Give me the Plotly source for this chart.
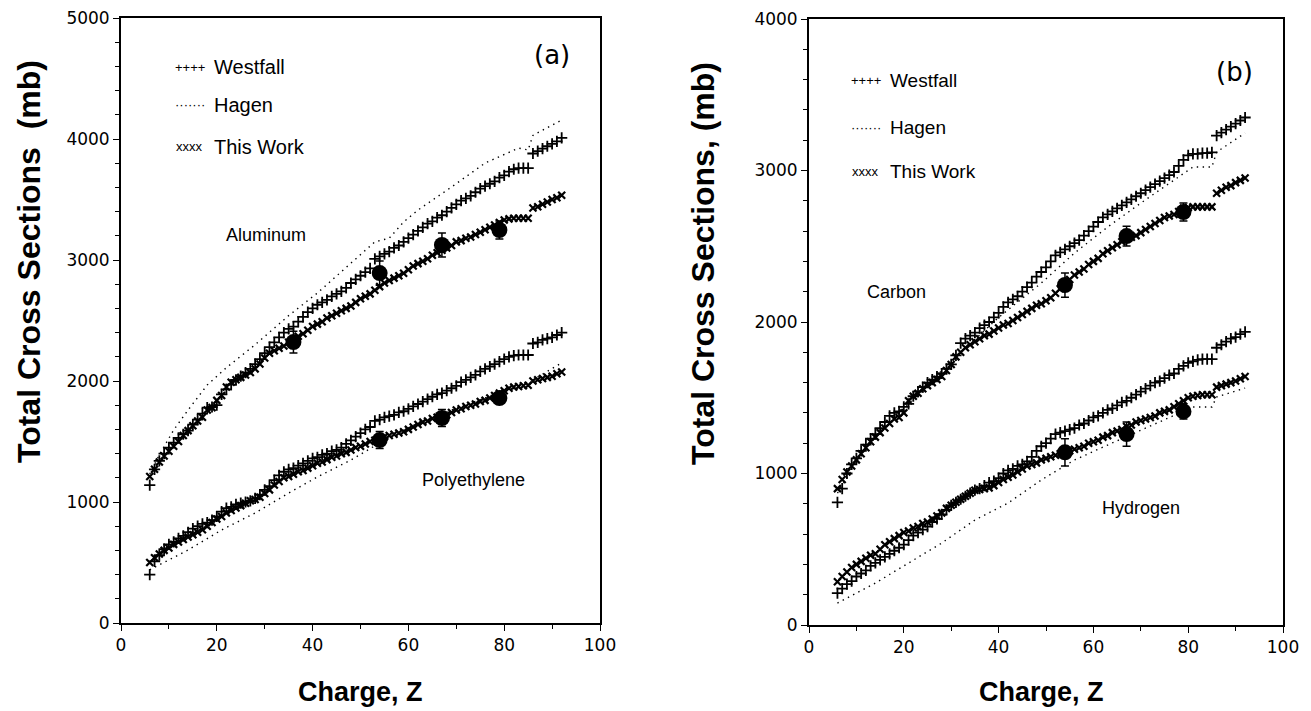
import plotly.graph_objects as go

# --- Data: total cross sections (mb) vs projectile charge Z ---
Z = list(range(6, 93))

# Panel (a) - Aluminum target
AL_WESTFALL = [1140, 1270, 1340, 1400, 1450, 1490, 1530, 1560, 1590, 1640,
               1680, 1730, 1780, 1785, 1800, 1890, 1930, 1970, 2010, 2040,
               2070, 2100, 2140, 2180, 2230, 2280, 2320, 2360, 2400, 2430,
               2450, 2490, 2530, 2570, 2600, 2630, 2650, 2670, 2700, 2720,
               2740, 2770, 2810, 2840, 2870, 2900, 2930, 3010, 3030, 3050,
               3070, 3100, 3120, 3150, 3180, 3210, 3240, 3270, 3300, 3320,
               3350, 3370, 3400, 3430, 3460, 3490, 3510, 3530, 3560, 3590,
               3610, 3630, 3650, 3680, 3700, 3730, 3750, 3760, 3760, 3760,
               3880, 3900, 3920, 3940, 3960, 3980, 4010]
AL_THIS_WORK = [1210, 1270, 1330, 1380, 1420, 1460, 1500, 1550, 1590, 1630,
                1670, 1700, 1760, 1780, 1840, 1880, 1950, 1990, 2010, 2030,
                2050, 2070, 2100, 2140, 2190, 2230, 2250, 2270, 2290, 2320,
                2340, 2370, 2390, 2420, 2450, 2470, 2490, 2520, 2540, 2560,
                2580, 2600, 2620, 2650, 2680, 2700, 2720, 2750, 2780, 2810,
                2830, 2850, 2870, 2890, 2920, 2950, 2970, 2990, 3010, 3040,
                3060, 3080, 3100, 3120, 3150, 3160, 3180, 3190, 3210, 3230,
                3250, 3270, 3290, 3310, 3330, 3340, 3345, 3345, 3345, 3345,
                3430, 3440, 3460, 3480, 3500, 3515, 3535]
AL_HAGEN_Z = [6, 8, 11, 14, 18, 22, 28, 35, 41, 48, 53, 56, 59, 62, 69, 76, 83, 85, 86, 92]
AL_HAGEN = [1230, 1390, 1595, 1760, 1967, 2110, 2300, 2540, 2727, 2975,
            3150, 3180, 3314, 3413, 3603, 3801, 3925, 3910, 4030, 4157]
AL_MEAS_Z = [36, 54, 67, 79]
AL_MEAS = [2322, 2892, 3124, 3248]
AL_MEAS_ERR = [90, 100, 100, 75]

# Panel (a) - Polyethylene target
PE_WESTFALL = [400, 510, 560, 610, 650, 670, 700, 720, 750, 780,
               800, 820, 830, 850, 880, 920, 950, 960, 980, 990,
               1000, 1010, 1030, 1060, 1100, 1130, 1180, 1220, 1250, 1270,
               1280, 1300, 1320, 1340, 1360, 1370, 1390, 1400, 1420, 1430,
               1450, 1480, 1510, 1540, 1570, 1600, 1620, 1670, 1680, 1700,
               1710, 1720, 1740, 1750, 1770, 1790, 1810, 1830, 1850, 1870,
               1890, 1900, 1920, 1940, 1960, 1990, 2010, 2030, 2050, 2080,
               2100, 2120, 2140, 2160, 2180, 2200, 2210, 2215, 2215, 2215,
               2310, 2320, 2340, 2350, 2360, 2380, 2400]
PE_THIS_WORK = [500, 540, 570, 600, 620, 650, 670, 690, 710, 730,
                750, 770, 800, 830, 860, 880, 910, 930, 950, 970,
                990, 1010, 1020, 1040, 1070, 1100, 1140, 1170, 1200, 1210,
                1230, 1250, 1260, 1280, 1300, 1320, 1330, 1350, 1370, 1380,
                1400, 1410, 1430, 1450, 1460, 1480, 1500, 1510, 1530, 1540,
                1550, 1560, 1570, 1580, 1600, 1620, 1640, 1660, 1670, 1690,
                1700, 1710, 1720, 1740, 1760, 1770, 1790, 1800, 1810, 1830,
                1840, 1860, 1880, 1900, 1920, 1940, 1950, 1955, 1960, 1965,
                2000, 2010, 2020, 2030, 2040, 2060, 2075]
PE_HAGEN_Z = [6, 14, 21, 28, 35, 41, 48, 55, 62, 69, 76, 80, 85, 86, 92]
PE_HAGEN = [440, 603, 769, 909, 1074, 1207, 1347, 1512, 1653, 1760,
            1859, 1930, 1950, 2010, 2150]
PE_MEAS_Z = [54, 67, 79]
PE_MEAS = [1512, 1694, 1859]
PE_MEAS_ERR = [70, 70, 45]

# Panel (b) - Carbon target
C_WESTFALL = [810, 900, 1000, 1060, 1100, 1150, 1190, 1230, 1260, 1300,
              1340, 1380, 1400, 1410, 1440, 1460, 1510, 1540, 1570, 1600,
              1620, 1640, 1660, 1690, 1720, 1780, 1860, 1890, 1910, 1930,
              1960, 1980, 2000, 2030, 2060, 2100, 2130, 2150, 2170, 2200,
              2230, 2260, 2300, 2330, 2360, 2400, 2440, 2460, 2480, 2500,
              2520, 2540, 2570, 2600, 2630, 2660, 2690, 2710, 2730, 2750,
              2770, 2790, 2810, 2830, 2850, 2870, 2890, 2910, 2930, 2950,
              2970, 2990, 3030, 3070, 3100, 3110, 3110, 3115, 3115, 3120,
              3230, 3250, 3270, 3290, 3310, 3330, 3350]
C_THIS_WORK = [900, 960, 1010, 1050, 1090, 1130, 1170, 1210, 1240, 1270,
               1300, 1330, 1360, 1370, 1400, 1480, 1510, 1530, 1560, 1580,
               1600, 1620, 1640, 1680, 1720, 1770, 1800, 1830, 1850, 1870,
               1890, 1910, 1920, 1940, 1960, 1980, 1990, 2010, 2030, 2050,
               2070, 2090, 2110, 2120, 2140, 2160, 2190, 2220, 2250, 2280,
               2310, 2330, 2350, 2380, 2400, 2420, 2450, 2470, 2490, 2510,
               2530, 2550, 2560, 2570, 2590, 2610, 2630, 2650, 2670, 2690,
               2700, 2710, 2730, 2750, 2755, 2760, 2760, 2760, 2760, 2760,
               2850, 2870, 2890, 2900, 2920, 2935, 2950]
C_HAGEN_Z = [6, 12, 20, 30, 40, 49, 56, 63, 70, 77, 81, 85, 86, 92]
C_HAGEN = [870, 1180, 1430, 1740, 2030, 2257, 2455, 2627, 2785, 2940,
           3023, 3023, 3122, 3247]
C_MEAS_Z = [54, 67, 79]
C_MEAS = [2244, 2567, 2726]
C_MEAS_ERR = [80, 65, 60]

# Panel (b) - Hydrogen target
H_WESTFALL = [210, 240, 270, 290, 320, 340, 360, 390, 410, 430,
              450, 470, 490, 510, 530, 560, 590, 610, 630, 650,
              680, 700, 730, 760, 790, 810, 830, 850, 870, 890,
              900, 920, 940, 950, 970, 1000, 1020, 1030, 1050, 1060,
              1080, 1110, 1150, 1180, 1200, 1230, 1260, 1270, 1280, 1290,
              1300, 1320, 1330, 1350, 1370, 1380, 1400, 1420, 1430, 1450,
              1470, 1480, 1500, 1520, 1540, 1560, 1580, 1600, 1610, 1630,
              1650, 1660, 1690, 1710, 1730, 1740, 1750, 1755, 1755, 1755,
              1830, 1850, 1870, 1890, 1900, 1920, 1935]
H_THIS_WORK = [285, 320, 350, 380, 400, 420, 440, 460, 470, 500,
               530, 550, 570, 590, 610, 620, 640, 650, 670, 680,
               700, 720, 740, 770, 790, 810, 830, 850, 870, 890,
               895, 900, 905, 920, 940, 960, 975, 990, 1010, 1030,
               1050, 1060, 1070, 1090, 1100, 1110, 1120, 1130, 1140, 1150,
               1160, 1170, 1180, 1200, 1210, 1220, 1240, 1250, 1270, 1280,
               1290, 1310, 1320, 1340, 1350, 1360, 1370, 1380, 1400, 1410,
               1420, 1440, 1460, 1480, 1500, 1510, 1515, 1520, 1520, 1520,
               1570, 1580, 1590, 1600, 1610, 1625, 1640]
H_HAGEN_Z = [6, 14, 21, 28, 35, 42, 49, 56, 63, 70, 77, 81, 85, 86, 92]
H_HAGEN = [145, 277, 409, 541, 693, 805, 957, 1089, 1188, 1287,
           1386, 1439, 1439, 1505, 1564]
H_MEAS_Z = [54, 67, 79]
H_MEAS = [1140, 1260, 1410]
H_MEAS_ERR = [90, 80, 50]

# --- Style ---
TEXT_FONT = "Liberation Sans"
TICK_FONT = "DejaVu Sans"
INK = "black"

# The page body has an 8px margin, so the figure is a bit smaller than the window
PAGE_PAD = 8
FIG_W = 1311 - PAGE_PAD
FIG_H = 711 - PAGE_PAD


def px_x(px):
    """Window pixel column -> paper x."""
    return (px - PAGE_PAD) / FIG_W


def px_y(py):
    """Window pixel row -> paper y."""
    return 1 - (py - PAGE_PAD) / FIG_H


def add_target(fig, xa, ya, westfall, this_work, hagen_z, hagen, meas_z, meas, meas_err):
    """One target: Westfall (+), Hagen (dotted), this work (x) and measured points."""
    fig.add_trace(go.Scatter(
        x=hagen_z, y=hagen, mode="lines", xaxis=xa, yaxis=ya,
        line=dict(color=INK, width=1.4, dash="1.4px,4.5px"),
    ))
    fig.add_trace(go.Scatter(
        x=Z, y=westfall, mode="markers", xaxis=xa, yaxis=ya,
        marker=dict(symbol="cross-thin", size=8, line=dict(color=INK, width=1.8)),
    ))
    fig.add_trace(go.Scatter(
        x=Z, y=this_work, mode="markers", xaxis=xa, yaxis=ya,
        marker=dict(symbol="x-thin", size=7, line=dict(color=INK, width=2.2)),
    ))
    fig.add_trace(go.Scatter(
        x=meas_z, y=meas, mode="markers", xaxis=xa, yaxis=ya,
        marker=dict(symbol="circle", size=16, color=INK),
        error_y=dict(type="data", array=meas_err, color=INK, thickness=1.5, width=4),
    ))


def add_legend_block(fig, xa, ya, sym_x, text_x, ys, size):
    """The little text legend in the top left corner of a panel."""
    symbols = ["++++", "·······", "xxxx"]
    names = ["Westfall", "Hagen", "This Work"]
    for sym, name, y in zip(symbols, names, ys):
        fig.add_annotation(x=sym_x, y=y, xref=xa, yref=ya, text=sym, showarrow=False,
                           font=dict(family=TEXT_FONT, size=13, color=INK))
        fig.add_annotation(x=text_x, y=y, xref=xa, yref=ya, text=name, showarrow=False,
                           xanchor="left", font=dict(family=TEXT_FONT, size=size, color=INK))


def main():
    fig = go.Figure()

    add_target(fig, "x", "y", AL_WESTFALL, AL_THIS_WORK, AL_HAGEN_Z, AL_HAGEN,
               AL_MEAS_Z, AL_MEAS, AL_MEAS_ERR)
    add_target(fig, "x", "y", PE_WESTFALL, PE_THIS_WORK, PE_HAGEN_Z, PE_HAGEN,
               PE_MEAS_Z, PE_MEAS, PE_MEAS_ERR)
    add_target(fig, "x2", "y2", C_WESTFALL, C_THIS_WORK, C_HAGEN_Z, C_HAGEN,
               C_MEAS_Z, C_MEAS, C_MEAS_ERR)
    add_target(fig, "x2", "y2", H_WESTFALL, H_THIS_WORK, H_HAGEN_Z, H_HAGEN,
               H_MEAS_Z, H_MEAS, H_MEAS_ERR)

    axis_common = dict(
        showline=True, linecolor=INK, linewidth=1.8, mirror=True,
        ticks="outside", ticklen=6, tickwidth=1.3, tickcolor=INK,
        showgrid=False, zeroline=False, automargin=False, ticklabeloverflow="allow",
        tickfont=dict(family=TICK_FONT, size=17, color=INK),
    )
    x_minor = dict(dtick=10, ticks="outside", ticklen=4, tickcolor=INK)
    y_minor = dict(dtick=200, ticks="outside", ticklen=4, tickcolor=INK)
    fig.update_layout(
        width=FIG_W, height=FIG_H,
        margin=dict(l=0, r=0, t=0, b=0),
        paper_bgcolor="white", plot_bgcolor="white",
        showlegend=False,
        xaxis=dict(domain=[px_x(121), px_x(600)], range=[0, 100], dtick=20, anchor="y",
                   minor=x_minor, **axis_common),
        yaxis=dict(domain=[px_y(623), px_y(18)], range=[0, 5000], dtick=1000, anchor="x",
                   minor=y_minor, **axis_common),
        xaxis2=dict(domain=[px_x(809), px_x(1283)], range=[0, 100], dtick=20, anchor="y2",
                    minor=x_minor, **axis_common),
        yaxis2=dict(domain=[px_y(625), px_y(19)], range=[0, 4000], dtick=1000, anchor="x2",
                    minor=y_minor, **axis_common),
    )

    # Legends and panel letters
    add_legend_block(fig, "x", "y", 14.4, 19.0, [4595, 4281, 3934], 20)
    add_legend_block(fig, "x2", "y2", 12.0, 16.6, [3597, 3287, 2996], 19)
    fig.add_annotation(x=90, y=4694, xref="x", yref="y", text="(a)", showarrow=False,
                       font=dict(family=TICK_FONT, size=26, color=INK))
    fig.add_annotation(x=89.7, y=3650, xref="x2", yref="y2", text="(b)", showarrow=False,
                       font=dict(family=TICK_FONT, size=26, color=INK))

    # Target names
    targets = [("Aluminum", "x", "y", 30.3, 3206), ("Polyethylene", "x", "y", 73.5, 1182),
               ("Carbon", "x2", "y2", 18.4, 2198), ("Hydrogen", "x2", "y2", 70.0, 772)]
    for name, xa, ya, zx, yy in targets:
        fig.add_annotation(x=zx, y=yy, xref=xa, yref=ya, text=name, showarrow=False,
                           font=dict(family=TEXT_FONT, size=18, color=INK))

    # Axis titles
    y_title_font = dict(family=TEXT_FONT, size=32, color=INK)
    x_title_font = dict(family=TEXT_FONT, size=27, color=INK)
    titles = [
        ("<b>Total Cross Sections  (mb)</b>", 29, 262, -90, y_title_font),
        ("<b>Total Cross Sections, (mb)</b>", 703, 264, -90, y_title_font),
        ("<b>Charge, Z</b>", 360, 692, 0, x_title_font),
        ("<b>Charge, Z</b>", 1041, 692, 0, x_title_font),
    ]
    for text, px, py, angle, font in titles:
        fig.add_annotation(x=px_x(px), y=px_y(py), xref="paper", yref="paper",
                           xanchor="center", yanchor="middle", text=text,
                           textangle=angle, showarrow=False, font=font)

    fig.write_html("out.html")


if __name__ == "__main__":
    main()
